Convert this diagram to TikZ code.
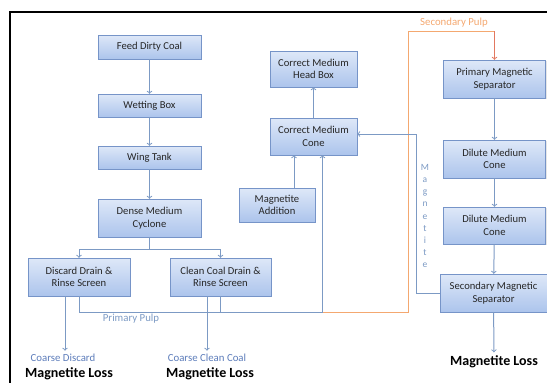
\documentclass[tikz,border=0pt]{standalone}
\usepackage{fontspec}
\setmainfont{Carlito}
\usepackage{xcolor}
\usepackage{tikz}
\usetikzlibrary{shadows}

\definecolor{boxtop}{RGB}{222,232,248}
\definecolor{boxbot}{RGB}{172,196,236}
\definecolor{boxline}{RGB}{118,148,200}
\definecolor{flowblue}{RGB}{124,154,196}
\definecolor{pulporange}{RGB}{244,168,112}
\definecolor{pulpred}{RGB}{226,120,96}
\definecolor{labelblue}{RGB}{92,124,186}

\tikzset{
	unit/.style={draw=boxline, top color=boxtop, bottom color=boxbot, align=center, inner sep=0pt,
		font=\fontsize{10.6}{12.5}\selectfont, text=black!85,
		drop shadow={opacity=0.2, shadow xshift=1pt, shadow yshift=-1.2pt}},
	flow/.style={draw=flowblue, line width=1pt},
	arr/.style={flow, -to},
	hot/.style={draw=pulporange, line width=1pt},
	loss/.style={font=\fontsize{14}{15}\bfseries\selectfont},
	tag/.style={font=\fontsize{10.8}{12}\selectfont},
}

\begin{document}
\begin{tikzpicture}[x=1pt, y=-1pt]
		\useasboundingbox (0,0) rectangle (547,383);
		\draw[line width=2pt] (10,383) -- (10,12) -- (547,12);
		% WASHING CIRCUIT
		\node[unit, minimum width=103, minimum height=24] (feed) at (149.5,47) {Feed Dirty Coal};
		\node[unit, minimum width=103, minimum height=23] (wet) at (149.5,105.5) {Wetting Box};
		\node[unit, minimum width=103, minimum height=23] (wing) at (149.5,157.5) {Wing Tank};
		\node[unit, minimum width=103, minimum height=38] (dmc) at (149.5,218) {Dense Medium\\Cyclone};
		\node[unit, minimum width=102, minimum height=38] (discard) at (79,277) {Discard Drain \&\\Rinse Screen};
		\node[unit, minimum width=101, minimum height=38] (clean) at (220.5,277) {Clean Coal Drain \&\\Rinse Screen};
		\draw[arr] (feed) -- (wet);
		\draw[arr] (wet) -- (wing);
		\draw[arr] (wing) -- (dmc);
		\coordinate (split) at (149.5,249.5);
		\draw[flow] (dmc) -- (split);
		\draw[arr] (split) -| (discard);
		\draw[arr] (split) -| (clean);
		% products
		\node[tag, text=labelblue] (coarsed) at (63,358) {Coarse Discard};
		\node[tag, text=labelblue] (coarsec) at (207,358) {Coarse Clean Coal};
		\node[loss] (lossd) at (69,374) {Magnetite Loss};
		\node[loss] (lossc) at (210,374) {Magnetite Loss};
		\draw[arr] ([xshift=2pt]coarsed.north |- discard.south) -- ([xshift=2pt]coarsed.north);
		\draw[arr] (coarsec.north |- clean.south) -- (coarsec.north);
		% MEDIUM CIRCUIT
		\node[unit, minimum width=87, minimum height=36] (headbox) at (313.5,69) {Correct Medium\\Head Box};
		\node[unit, minimum width=87, minimum height=37] (cmcone) at (313.5,136.5) {Correct Medium\\Cone};
		\node[unit, minimum width=76, minimum height=34] (addition) at (277,205) {Magnetite\\Addition};
		\draw[arr] (cmcone) -- (headbox);
		\draw[arr] ([xshift=17pt]addition.north) -- ([xshift=17pt]addition.north |- cmcone.south);
		\coordinate (pp) at (322.5,312.5);
		\draw[flow] (discard) |- (pp);
		\draw[flow] (clean) -- (clean |- pp);
		\draw[arr] (pp) -- (pp |- cmcone.south);
		\node[tag, text=flowblue] (pplabel) at (131,319) {Primary Pulp};
		% MAGNETIC SEPARATION
		\node[unit, minimum width=102, minimum height=38] (pms) at (494.5,79) {Primary Magnetic\\Separator};
		\node[unit, minimum width=102, minimum height=38] (dmc1) at (494.5,159) {Dilute Medium\\Cone};
		\node[unit, minimum width=102, minimum height=37] (dmc2) at (494.5,225.5) {Dilute Medium\\Cone};
		\node[unit, minimum width=107, minimum height=38] (sms) at (493.5,293) {Secondary Magnetic\\Separator};
		\node[loss] (losss) at (494,362) {Magnetite Loss};
		\draw[arr] (pms) -- (dmc1);
		\draw[arr] (dmc1) -- (dmc2);
		\draw[arr] (dmc2) -- (sms);
		\draw[arr] (sms) -- (losss);
		\coordinate (sp) at (408,31);
		\draw[hot] (pp) -| (sp) -- (sp -| pms.north);
		\draw[draw=pulpred, line width=1pt, -to] (sp -| pms.north) -- (pms.north);
		\node[tag, text=pulporange] (splabel) at (454,23) {Secondary Pulp};
		\coordinate (mr) at (416.5,134);
		\draw[flow] (sms.west) -| (mr);
		\draw[arr] (mr) -- (mr -| cmcone.east);
		\node[text=flowblue, font=\fontsize{9.5}{12.2}\selectfont, align=center] (maglabel) at (425,216) {M\\a\\g\\n\\e\\t\\i\\t\\e};
	\end{tikzpicture}
\end{document}
